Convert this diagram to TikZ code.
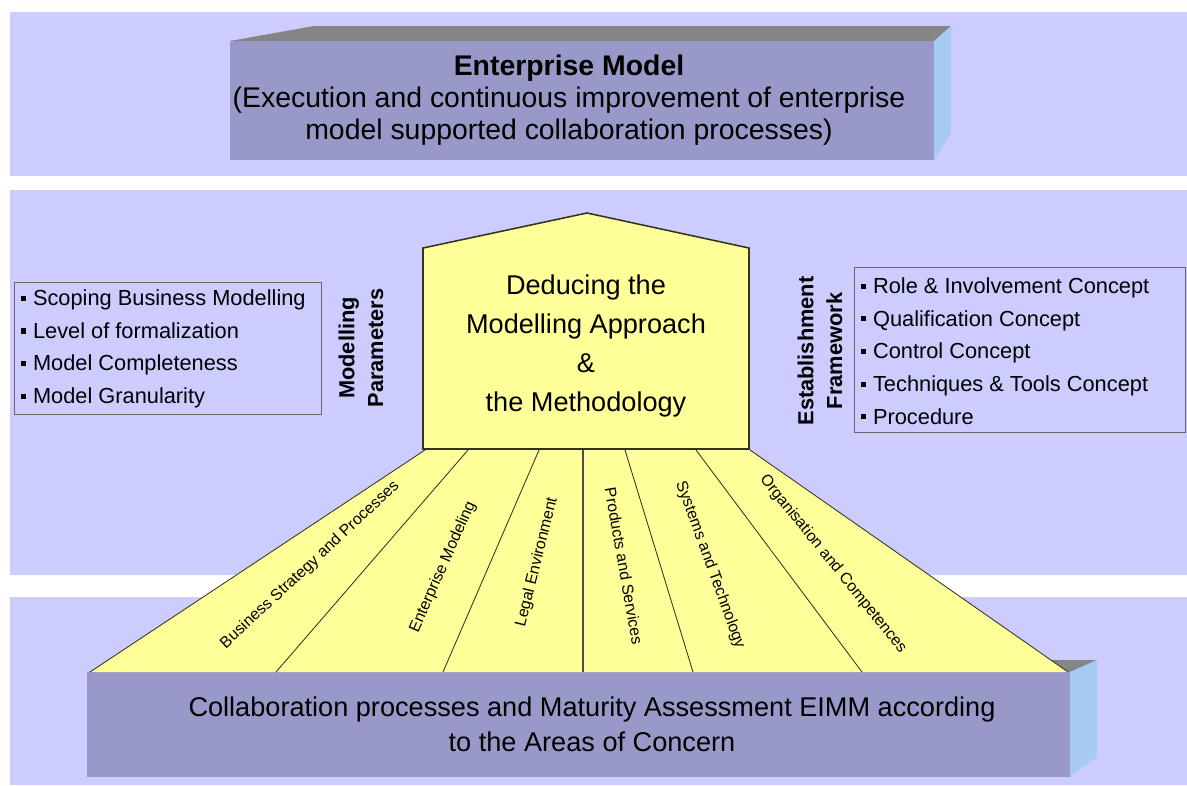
\documentclass[tikz,border=0pt]{standalone}
\usepackage{fontspec}
\setmainfont{Liberation Sans}
\usetikzlibrary{fit,backgrounds}

\definecolor{bandblue}{HTML}{CCCCFF}
\definecolor{frontface}{HTML}{9999C9}
\definecolor{topface}{HTML}{858585}
\definecolor{sideface}{HTML}{A6CAF0}
\definecolor{paleyellow}{HTML}{FFFF99}
\definecolor{edgeline}{HTML}{333322}

\newcommand{\itm}{\rule[0.22em]{3.6pt}{3.6pt}\hspace{5pt}}

\begin{document}
\begin{tikzpicture}[x=0.025cm, y=-0.025cm,
    band/.style={fill=bandblue},
    front/.style={fill=frontface},
    topside/.style={fill=topface},
    rightside/.style={fill=sideface},
    strip/.style={draw=edgeline, line width=0.6pt},
    boxtext/.style={align=center, font=\fontsize{19.3}{22.8}\selectfont},
    listbox/.style={draw=gray!80!black, line width=0.6pt, inner sep=0pt},
    listtext/.style={align=left, anchor=west, font=\fontsize{15.5}{23.2}\selectfont},
    sidelabel/.style={align=center, rotate=90, font=\bfseries\fontsize{15.5}{20.5}\selectfont},
    striplabel/.style={font=\fontsize{11.3}{13}\selectfont, inner sep=0pt}
]
    \useasboundingbox (0,0) rectangle (1187,785);

    % bands
    \begin{scope}[on background layer]
        \fill[band] (10,12) rectangle (1187,176);
        \fill[band] (10,190) rectangle (1187,575);
        \fill[band] (10,597) rectangle (1187,785);
    \end{scope}

    % top block
    \coordinate (tfl) at (230,41);
    \coordinate (tfr) at (934,41);
    \coordinate (tbl) at (314,26);
    \coordinate (tbr) at (951,26);
    \fill[topside] (tfl) -- (tbl) -- (tbr) -- (tfr) -- cycle;
    \fill[rightside] (tfr) -- (tbr) -- (951,133) -- (934,160) -- cycle;
    \fill[front] (tfl) rectangle (934,160);
    \node[boxtext, font=\fontsize{20.2}{22.8}\selectfont] (em) at (569,100) {\textbf{Enterprise Model}\\(Execution and continuous improvement of enterprise\\model supported collaboration processes)};

    % bottom block
    \coordinate (bfl) at (87,672);
    \coordinate (bfr) at (1070,672);
    \coordinate (bbr) at (1097,660);
    \fill[topside] (bfl) -- (180,660) -- (bbr) -- (bfr) -- cycle;
    \fill[rightside] (bfr) -- (bbr) -- (1097,757) -- (1070,777) -- cycle;
    \fill[front] (bfl) rectangle (1070,777);

    % fan of areas
    \coordinate (fl) at (425,450);
    \coordinate (fr) at (750,450);
    \coordinate (gl) at (90,672);
    \coordinate (gr) at (1068,672);
    \fill[paleyellow] (gl) -- (fl) -- (fr) -- (gr) -- cycle;
    \draw[strip] (gl) -- (fl);
    \draw[strip] (gr) -- (fr);
    \coordinate (t1) at (468,450);  \coordinate (b1) at (276,672);
    \coordinate (t2) at (539,450);  \coordinate (b2) at (443,672);
    \coordinate (t3) at (583,450);  \coordinate (b3) at (583,672);
    \coordinate (t4) at (625,450);  \coordinate (b4) at (693,672);
    \coordinate (t5) at (696,450);  \coordinate (b5) at (862,672);
    \draw[strip] (t1) -- (b1);
    \draw[strip] (t2) -- (b2);
    \draw[strip, draw=gray!60!black, line width=1.4pt] (t3) -- (b3);
    \draw[strip] (t4) -- (b4);
    \draw[strip] (t5) -- (b5);

    \node[boxtext, font=\fontsize{19.3}{24.9}\selectfont] (eimm) at (592,724) {Collaboration processes and Maturity Assessment EIMM according\\to the Areas of Concern};

    % house
    \draw[fill=paleyellow, draw=edgeline, line width=1.1pt] (423,449) -- (423,248) -- (587,213) -- (749,248) -- (749,449) -- cycle;
    \node[boxtext, font=\fontsize{19.3}{27.7}\selectfont] (ded) at (586,346) {Deducing the\\Modelling Approach\\\&\\the Methodology};

    % labels on the fan
    \node[striplabel, rotate=43] (bsp) at (310,565) {Business Strategy and Processes};
    \node[striplabel, rotate=66] (ent) at (443,567) {Enterprise Modeling};
    \node[striplabel, rotate=76] (leg) at (537,562) {Legal Environment};
    \node[striplabel, rotate=-80] (pas) at (624,566) {Products and Services};
    \node[striplabel, rotate=-70] (sat) at (710,565) {Systems and Technology};
    \node[striplabel, rotate=-51] (oac) at (833,564) {Organisation and Competences};

    % side lists
    \coordinate (p1) at (14,282);
    \coordinate (p2) at (321,414);
    \node[listbox, fit=(p1) (p2)] (params) {};
    \node[listtext] (paramlist) at (16,349) {\itm Scoping Business Modelling\\\itm Level of formalization\\\itm Model Completeness\\\itm Model Granularity};
    \node[sidelabel] (mp) at (361,348) {Modelling\\Parameters};

    \coordinate (f1) at (854,267);
    \coordinate (f2) at (1185,432);
    \node[listbox, fit=(f1) (f2)] (frame) {};
    \node[listtext] (framelist) at (856,351) {\itm Role \& Involvement Concept\\\itm Qualification Concept\\\itm Control Concept\\\itm Techniques \& Tools Concept\\\itm Procedure};
    \node[sidelabel] (ef) at (820,351) {Establishment\\Framework};
\end{tikzpicture}
\end{document}
